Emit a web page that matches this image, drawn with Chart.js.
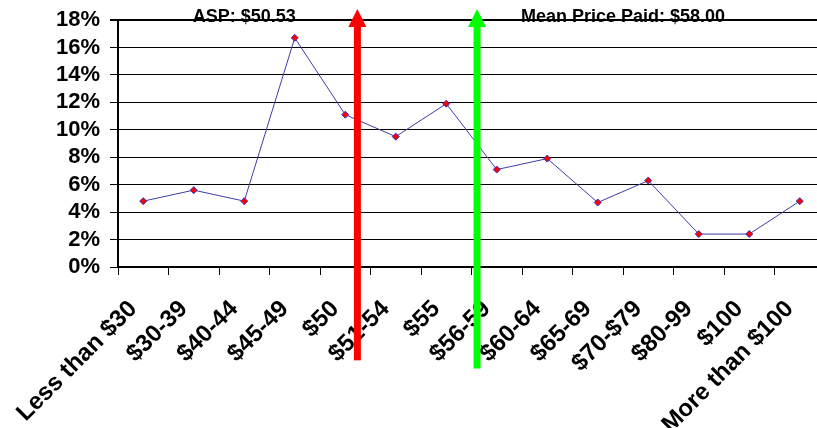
<!DOCTYPE html>
<html>
<head>
<meta charset="utf-8">
<script src="https://cdn.jsdelivr.net/npm/chart.js@4/dist/chart.umd.min.js"></script>
<style>
  html, body { margin: 0; padding: 0; background: #fff; overflow: hidden; }
  #wrap { width: 830px; height: 428px; }
</style>
</head>
<body>
<div id="wrap"><canvas id="priceChart" width="830" height="428"></canvas></div>
<script>
const categories = ['Less than $30', '$30-39', '$40-44', '$45-49', '$50', '$51-54', '$55',
  '$56-59', '$60-64', '$65-69', '$70-$79', '$80-99', '$100', 'More than $100'];
const shareValues = [4.8, 5.6, 4.8, 16.7, 11.1, 9.5, 11.9, 7.1, 7.9, 4.7, 6.3, 2.4, 2.4, 4.8];
const yMin = 0;
const yMax = 18;
const yStep = 2;

// arrow markers: position on the category axis (index units) and label text
const aspMarker = { pos: 4.24, bottom: -6.8, label: 'ASP: $50.53', labelPos: 2.0, color: '#ff0000' };
const meanMarker = { pos: 6.61, bottom: -7.4, label: 'Mean Price Paid: $58.00', labelPos: 9.5, color: '#00ff00' };
const arrowTop = 18.8;
const labelY = 18.25;

const fontFamily = '"Liberation Sans", Arial, sans-serif';

const markerPlugin = {
    id: 'markers',
    afterDraw(chart) {
        const ctx = chart.ctx;
        const xs = chart.scales.x;
        const ys = chart.scales.y;
        ctx.save();
        [aspMarker, meanMarker].forEach(m => {
            const x = xs.getPixelForValue(m.pos);
            const yTop = ys.getPixelForValue(arrowTop);
            const yBot = ys.getPixelForValue(m.bottom);
            const headH = 18;
            ctx.fillStyle = m.color;
            ctx.fillRect(x - 3.5, yTop + headH - 1, 7, yBot - yTop - headH + 1);
            ctx.beginPath();
            ctx.moveTo(x, yTop);
            ctx.lineTo(x + 9, yTop + headH);
            ctx.lineTo(x - 9, yTop + headH);
            ctx.closePath();
            ctx.fill();
        });
        ctx.fillStyle = '#000';
        ctx.font = 'bold 18px ' + fontFamily;
        ctx.textAlign = 'center';
        ctx.textBaseline = 'middle';
        [aspMarker, meanMarker].forEach(m => {
            ctx.fillText(m.label, xs.getPixelForValue(m.labelPos), ys.getPixelForValue(labelY));
        });
        ctx.restore();
    }
};

const ctx = document.getElementById('priceChart').getContext('2d');
new Chart(ctx, {
    type: 'line',
    data: {
        labels: categories,
        datasets: [{
            data: shareValues,
            borderColor: '#3d3da8',
            borderWidth: 1,
            pointStyle: 'rectRot',
            pointRadius: 3.5,
            pointBackgroundColor: '#ff0000',
            pointBorderColor: '#3030c0',
            pointBorderWidth: 1,
            tension: 0,
            fill: false
        }]
    },
    options: {
        responsive: false,
        animation: false,
        layout: { padding: { top: 20, right: 3, left: 0, bottom: 0 } },
        plugins: {
            legend: { display: false },
            title: { display: false },
            tooltip: { enabled: false }
        },
        scales: {
            x: {
                type: 'category',
                offset: true,
                afterFit: axis => {
                    axis.height = 161;
                    axis.paddingLeft = 0;
                    axis.paddingRight = 0;
                },
                grid: {
                    offset: true,
                    drawOnChartArea: false,
                    drawTicks: true,
                    tickLength: 8,
                    color: '#000'
                },
                border: { display: true, color: '#000', width: 2 },
                ticks: {
                    autoSkip: false,
                    maxRotation: 45,
                    minRotation: 45,
                    padding: 20,
                    labelOffset: -10,
                    color: '#000',
                    font: { family: fontFamily, size: 24, weight: 'bold' }
                }
            },
            y: {
                min: yMin,
                max: yMax,
                afterFit: axis => {
                    axis.width = 118;
                    axis.paddingTop = 0;
                    axis.paddingBottom = 0;
                },
                grid: {
                    color: '#000',
                    lineWidth: c => (c.tick && c.tick.value === yMax ? 2 : 1),
                    tickLength: 8
                },
                border: { display: true, color: '#000', width: 2 },
                ticks: {
                    stepSize: yStep,
                    autoSkip: false,
                    padding: 10,
                    color: '#000',
                    font: { family: fontFamily, size: 22, weight: 'bold' },
                    callback: v => v + '%'
                }
            }
        }
    },
    plugins: [markerPlugin]
});
</script>
</body>
</html>
